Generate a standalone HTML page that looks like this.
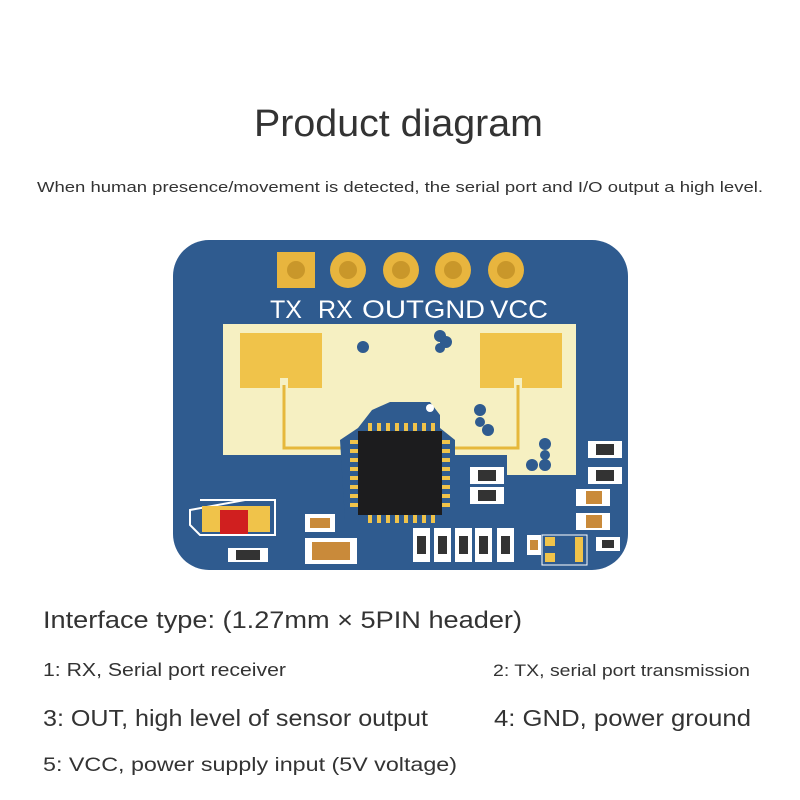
<!DOCTYPE html>
<html><head><meta charset="utf-8"><style>html,body{margin:0;padding:0;background:#fff}svg{display:block}</style></head>
<body>
<svg width="800" height="800" viewBox="0 0 800 800" xmlns="http://www.w3.org/2000/svg" font-family="Liberation Sans, sans-serif">
<rect width="800" height="800" fill="#fff"/>
<text x="254" y="136" font-size="38" fill="#333" textLength="289" lengthAdjust="spacingAndGlyphs">Product diagram</text>
<text x="37" y="192" font-size="15" fill="#333" textLength="726" lengthAdjust="spacingAndGlyphs">When human presence/movement is detected, the serial port and I/O output a high level.</text>

<!-- board -->
<rect x="173" y="240" width="455" height="330" rx="36" fill="#2f5b8f"/>
<!-- light area -->
<path d="M223 324 H576 V475 H507 V455 H223 Z" fill="#f6f0c2"/>
<!-- antennas -->
<path d="M240 333 H322 V388 H288 V378 H280 V388 H240 Z" fill="#f0c34a"/>
<path d="M480 333 H562 V388 H522 V378 H514 V388 H480 Z" fill="#f0c34a"/>
<path d="M284 385 V448 H360 M518 385 V448 H440" stroke="#e6b83c" stroke-width="3" fill="none"/>
<circle cx="363" cy="347" r="6" fill="#2f5b8f"/>
<circle cx="440" cy="336" r="6" fill="#2f5b8f"/><circle cx="446" cy="342" r="6" fill="#2f5b8f"/><circle cx="440" cy="348" r="5" fill="#2f5b8f"/>
<circle cx="480" cy="410" r="6" fill="#2f5b8f"/><circle cx="480" cy="422" r="5" fill="#2f5b8f"/><circle cx="488" cy="430" r="6" fill="#2f5b8f"/>
<circle cx="545" cy="444" r="6" fill="#2f5b8f"/><circle cx="545" cy="455" r="5" fill="#2f5b8f"/><circle cx="545" cy="465" r="6" fill="#2f5b8f"/><circle cx="532" cy="465" r="6" fill="#2f5b8f"/>
<!-- chip area -->
<path d="M372 410 L390 402 L430 402 L440 415 L440 428 L455 440 L455 520 L345 520 L340 440 L358 428 Z" fill="#2f5b8f"/>
<circle cx="430" cy="408" r="4" fill="#fff"/>
<g fill="#f0c34a">
<rect x="368" y="423" width="4" height="9"/><rect x="377" y="423" width="4" height="9"/><rect x="386" y="423" width="4" height="9"/><rect x="395" y="423" width="4" height="9"/><rect x="404" y="423" width="4" height="9"/><rect x="413" y="423" width="4" height="9"/><rect x="422" y="423" width="4" height="9"/><rect x="431" y="423" width="4" height="9"/>
<rect x="368" y="514" width="4" height="9"/><rect x="377" y="514" width="4" height="9"/><rect x="386" y="514" width="4" height="9"/><rect x="395" y="514" width="4" height="9"/><rect x="404" y="514" width="4" height="9"/><rect x="413" y="514" width="4" height="9"/><rect x="422" y="514" width="4" height="9"/><rect x="431" y="514" width="4" height="9"/>
<rect x="350" y="440" width="9" height="4"/><rect x="350" y="449" width="9" height="4"/><rect x="350" y="458" width="9" height="4"/><rect x="350" y="467" width="9" height="4"/><rect x="350" y="476" width="9" height="4"/><rect x="350" y="485" width="9" height="4"/><rect x="350" y="494" width="9" height="4"/><rect x="350" y="503" width="9" height="4"/>
<rect x="441" y="440" width="9" height="4"/><rect x="441" y="449" width="9" height="4"/><rect x="441" y="458" width="9" height="4"/><rect x="441" y="467" width="9" height="4"/><rect x="441" y="476" width="9" height="4"/><rect x="441" y="485" width="9" height="4"/><rect x="441" y="494" width="9" height="4"/><rect x="441" y="503" width="9" height="4"/>
</g>
<rect x="358" y="431" width="84" height="84" fill="#1c1c1e"/>
<!-- header pads -->
<rect x="277" y="252" width="38" height="36" fill="#e8b53e"/>
<circle cx="348" cy="270" r="18" fill="#e8b53e"/>
<circle cx="401" cy="270" r="18" fill="#e8b53e"/>
<circle cx="453" cy="270" r="18" fill="#e8b53e"/>
<circle cx="506" cy="270" r="18" fill="#e8b53e"/>
<g fill="#c9972a"><circle cx="296" cy="270" r="9"/><circle cx="348" cy="270" r="9"/><circle cx="401" cy="270" r="9"/><circle cx="453" cy="270" r="9"/><circle cx="506" cy="270" r="9"/></g>
<g fill="#fff" font-size="25">
<text x="270" y="318">TX</text><text x="318" y="318">RX</text><text x="362" y="318" textLength="62" lengthAdjust="spacingAndGlyphs">OUT</text><text x="424" y="318" textLength="61" lengthAdjust="spacingAndGlyphs">GND</text><text x="490" y="318" textLength="58" lengthAdjust="spacingAndGlyphs">VCC</text>
</g>
<!-- bottom left component -->
<path d="M200 500 H270 M245 500 H275 V535 H200 L190 525 V510 Z" stroke="#fff" stroke-width="2" fill="none"/>
<rect x="202" y="506" width="68" height="26" fill="#f0c34a"/>
<rect x="220" y="510" width="28" height="24" fill="#d01f1f"/>
<rect x="228" y="548" width="40" height="14" fill="#fff"/><rect x="236" y="550" width="24" height="10" fill="#333"/>
<rect x="305" y="514" width="30" height="18" fill="#fff"/><rect x="310" y="518" width="20" height="10" fill="#c98a3a"/>
<rect x="305" y="538" width="52" height="26" fill="#fff"/><rect x="312" y="542" width="38" height="18" fill="#c98a3a"/>
<!-- resistor row -->
<g fill="#fff"><rect x="413" y="528" width="17" height="34"/><rect x="434" y="528" width="17" height="34"/><rect x="455" y="528" width="17" height="34"/><rect x="475" y="528" width="17" height="34"/><rect x="497" y="528" width="17" height="34"/></g>
<g fill="#333"><rect x="417" y="536" width="9" height="18"/><rect x="438" y="536" width="9" height="18"/><rect x="459" y="536" width="9" height="18"/><rect x="479" y="536" width="9" height="18"/><rect x="501" y="536" width="9" height="18"/></g>
<!-- right components -->
<rect x="470" y="467" width="34" height="17" fill="#fff"/><rect x="478" y="470" width="18" height="11" fill="#333"/>
<rect x="470" y="487" width="34" height="17" fill="#fff"/><rect x="478" y="490" width="18" height="11" fill="#333"/>
<rect x="588" y="441" width="34" height="17" fill="#fff"/><rect x="596" y="444" width="18" height="11" fill="#333"/>
<rect x="588" y="467" width="34" height="17" fill="#fff"/><rect x="596" y="470" width="18" height="11" fill="#333"/>
<rect x="576" y="489" width="34" height="17" fill="#fff"/><rect x="586" y="491" width="16" height="13" fill="#c98a3a"/>
<rect x="576" y="513" width="34" height="17" fill="#fff"/><rect x="586" y="515" width="16" height="13" fill="#c98a3a"/>
<rect x="527" y="535" width="14" height="20" fill="#fff"/><rect x="530" y="540" width="8" height="10" fill="#c98a3a"/>
<rect x="542" y="535" width="45" height="30" fill="#2f5b8f" stroke="#fff" stroke-width="1"/>
<rect x="545" y="537" width="10" height="9" fill="#f0c34a"/><rect x="545" y="553" width="10" height="9" fill="#f0c34a"/><rect x="575" y="537" width="8" height="25" fill="#f0c34a"/>
<rect x="596" y="537" width="24" height="14" fill="#fff"/><rect x="602" y="540" width="12" height="8" fill="#333"/>

<!-- bottom text -->
<g fill="#333">
<text x="43" y="628" font-size="24" textLength="479" lengthAdjust="spacingAndGlyphs">Interface type: (1.27mm × 5PIN header)</text>
<text x="43" y="676" font-size="18" textLength="243" lengthAdjust="spacingAndGlyphs">1: RX, Serial port receiver</text>
<text x="493" y="676" font-size="17" textLength="257" lengthAdjust="spacingAndGlyphs">2: TX, serial port transmission</text>
<text x="43" y="726" font-size="23" textLength="385" lengthAdjust="spacingAndGlyphs">3: OUT, high level of sensor output</text>
<text x="494" y="726" font-size="23" textLength="257" lengthAdjust="spacingAndGlyphs">4: GND, power ground</text>
<text x="43" y="771" font-size="19" textLength="414" lengthAdjust="spacingAndGlyphs">5: VCC, power supply input (5V voltage)</text>
</g>
</svg>
</body></html>
